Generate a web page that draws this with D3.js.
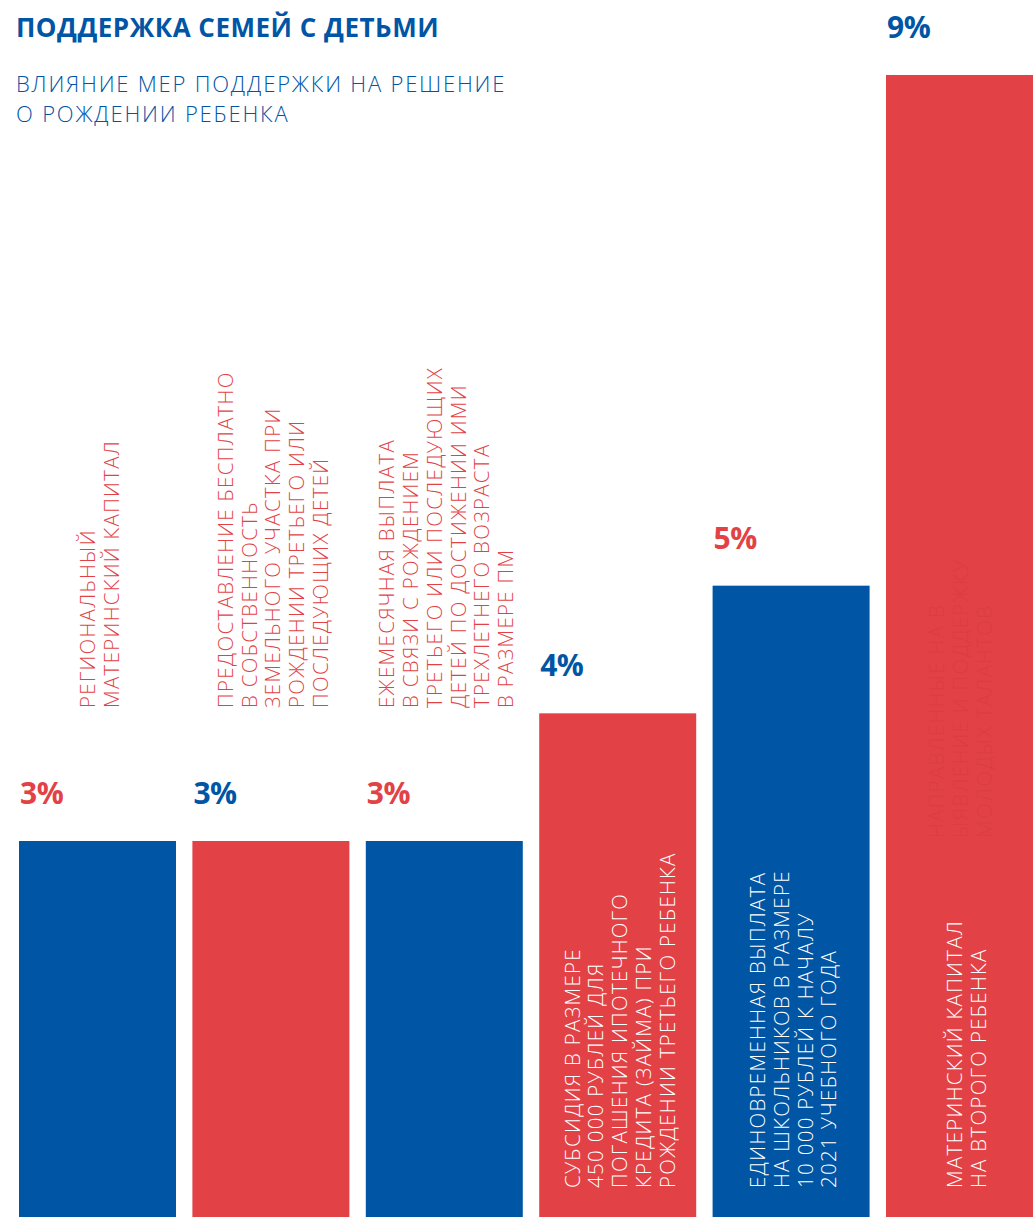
<!DOCTYPE html>
<html>
<head>
<meta charset="utf-8">
<script src="https://cdn.jsdelivr.net/npm/d3@7"></script>
<style>
  html, body { margin: 0; padding: 0; background: #fff; overflow: hidden; }
  svg { display: block; }
</style>
</head>
<body>
<svg id="chart" width="1033" height="1217"></svg>
<script>
(function () {
    'use strict';

    var title = "ПОДДЕРЖКА СЕМЕЙ С ДЕТЬМИ";
    var subtitle = ["ВЛИЯНИЕ МЕР ПОДДЕРЖКИ НА РЕШЕНИЕ", "О РОЖДЕНИИ РЕБЕНКА"];

    // one entry per bar, each label already broken into lines
    var categories = [
        ["РЕГИОНАЛЬНЫЙ", "МАТЕРИНСКИЙ КАПИТАЛ"],
        ["ПРЕДОСТАВЛЕНИЕ БЕСПЛАТНО", "В СОБСТВЕННОСТЬ", "ЗЕМЕЛЬНОГО УЧАСТКА ПРИ",
         "РОЖДЕНИИ ТРЕТЬЕГО ИЛИ", "ПОСЛЕДУЮЩИХ ДЕТЕЙ"],
        ["ЕЖЕМЕСЯЧНАЯ ВЫПЛАТА", "В СВЯЗИ С РОЖДЕНИЕМ", "ТРЕТЬЕГО ИЛИ ПОСЛЕДУЮЩИХ",
         "ДЕТЕЙ ПО ДОСТИЖЕНИИ ИМИ", "ТРЕХЛЕТНЕГО ВОЗРАСТА", "В РАЗМЕРЕ ПМ"],
        ["СУБСИДИЯ В РАЗМЕРЕ", "450 000 РУБЛЕЙ ДЛЯ", "ПОГАШЕНИЯ ИПОТЕЧНОГО",
         "КРЕДИТА (ЗАЙМА) ПРИ", "РОЖДЕНИИ ТРЕТЬЕГО РЕБЕНКА"],
        ["ЕДИНОВРЕМЕННАЯ ВЫПЛАТА", "НА ШКОЛЬНИКОВ В РАЗМЕРЕ", "10 000 РУБЛЕЙ К НАЧАЛУ",
         "2021 УЧЕБНОГО ГОДА"],
        ["МАТЕРИНСКИЙ КАПИТАЛ", "НА ВТОРОГО РЕБЕНКА"]
    ];
    var values = [3, 3, 3, 4, 5, 9];

    // leftover text that shows through faintly on the last bar
    var ghostLines = ["НАПРАВЛЕННЫЕ НА В", "ЫЯВЛЕНИЕ И ПОДДЕРЖКУ", "МОЛОДЫХ ТАЛАНТОВ"];

    var blue = "#0055a5",
        red = "#e24245",
        ghost = "#db3d41",
        font = "'Open Sans', sans-serif",
        lineStep = 23.8,
        insideFrom = 4; // bars at or above this value carry their label inside

    var svg = d3.select("#chart");

    var x = d3.scaleBand()
        .domain(d3.range(values.length))
        .range([19, 1043])
        .paddingInner(0.0946)
        .paddingOuter(0);

    var y = d3.scaleLinear()
        .domain([0, 9])
        .range([1224, 75]);

    function barColor(i) { return i % 2 ? red : blue; }
    function labelColor(i) { return i % 2 ? blue : red; }

    svg.append("text")
        .attr("x", 16)
        .attr("y", 37)
        .attr("fill", blue)
        .attr("font-family", font)
        .attr("font-weight", 700)
        .attr("font-size", 26)
        .attr("letter-spacing", 0.5)
        .text(title);

    svg.append("g")
        .selectAll("text")
        .data(subtitle)
        .join("text")
        .attr("x", 16)
        .attr("y", function (d, i) { return 92 + i * 30; })
        .attr("fill", blue)
        .attr("font-family", font)
        .attr("font-weight", 300)
        .attr("font-size", 22)
        .attr("letter-spacing", 1.8)
        .text(function (d) { return d; });

    var bars = svg.append("g")
        .selectAll("g")
        .data(values)
        .join("g");

    bars.append("rect")
        .attr("x", function (d, i) { return x(i); })
        .attr("y", function (d) { return y(d); })
        .attr("width", x.bandwidth())
        .attr("height", function (d) { return y(0) - y(d); })
        .attr("fill", function (d, i) { return barColor(i); });

    bars.append("text")
        .attr("x", function (d, i) { return x(i) + 1; })
        .attr("y", function (d) { return y(d) - 37; })
        .attr("fill", function (d, i) { return labelColor(i); })
        .attr("font-family", font)
        .attr("font-weight", 700)
        .attr("font-size", 30)
        .attr("letter-spacing", -0.5)
        .text(function (d) { return d + "%"; });

    // rotated multi-line labels, read bottom to top, block centred on the bar
    function verticalLines(g, lines, cx, bottom, fill) {
        var n = lines.length;
        g.selectAll(null)
            .data(lines)
            .join("text")
            .attr("transform", function (d, k) {
                var bx = cx + (k - (n - 1) / 2) * lineStep + 7.5;
                return "translate(" + bx + "," + bottom + ") rotate(-90)";
            })
            .attr("fill", fill)
            .attr("font-family", font)
            .attr("font-weight", 300)
            .attr("font-size", 20.5)
            .attr("letter-spacing", 1.3)
            .text(function (d) { return d; });
    }

    bars.each(function (d, i) {
        var g = d3.select(this),
            cx = x(i) + x.bandwidth() / 2 + 2;
        if (d >= insideFrom) {
            verticalLines(g, categories[i], cx, 1188, "#fff");
        } else {
            verticalLines(g, categories[i], cx, 708, red);
        }
    });

    verticalLines(svg.append("g"), ghostLines,
        x(values.length - 1) + x.bandwidth() / 2 - 4, 838, ghost);
}());
</script>
</body>
</html>
